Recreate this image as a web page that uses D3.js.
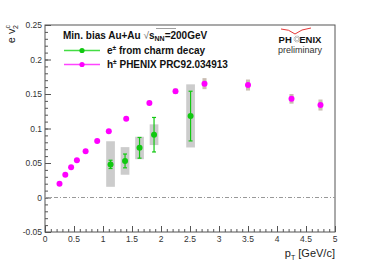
<!DOCTYPE html>
<html>
<head>
<meta charset="utf-8">
<script src="https://cdn.jsdelivr.net/npm/d3@7"></script>
<style>
  body { margin: 0; background: #fff; }
  svg { display: block; font-family: "Liberation Sans", Arial, sans-serif; }
</style>
</head>
<body>
<div id="chart"></div>
<script>
// Chart size, and the frame of the plot inside it.
const CHART_WIDTH = 374;
const CHART_HEIGHT = 264;
const MARGIN = { left: 45, right: 39, top: 25, bottom: 32 };

// Data.
const xTicks = [0, 0.5, 1, 1.5, 2, 2.5, 3, 3.5, 4, 4.5, 5];
const yTicks = [-0.05, 0, 0.05, 0.1, 0.15, 0.2, 0.25];

// h+- PHENIX PRC92.034913
const hadPt = [0.25, 0.35, 0.45, 0.55, 0.7, 0.9, 1.1, 1.4, 1.8, 2.25, 2.75, 3.5, 4.25, 4.75];
const hadV2 = [0.020, 0.033, 0.044, 0.054, 0.067, 0.082, 0.096, 0.114, 0.137, 0.154, 0.165, 0.163, 0.143, 0.134];
const hadSys = [0.001, 0.001, 0.001, 0.001, 0.001, 0.002, 0.002, 0.003, 0.003, 0.004, 0.008, 0.008, 0.007, 0.008];

// e+- from charm decay
const charmPt = [1.13, 1.38, 1.63, 1.88, 2.51];
const charmV2 = [0.048, 0.053, 0.072, 0.091, 0.118];
const charmStat = [0.006, 0.010, 0.015, 0.025, 0.036];
const charmSysLo = [0.0155, 0.033, 0.0555, 0.076, 0.0725];
const charmSysHi = [0.0815, 0.073, 0.088, 0.106, 0.164];

const GREEN = "#11c811";
const MAGENTA = "#ff00ff";

let svg = d3.select("#chart").append("svg")
  .attr("width", CHART_WIDTH)
  .attr("height", CHART_HEIGHT);

let xScale = d3.scaleLinear()
  .domain([0, 5])
  .range([MARGIN.left, CHART_WIDTH - MARGIN.right]);
let yScale = d3.scaleLinear()
  .domain([-0.05, 0.25])
  .range([CHART_HEIGHT - MARGIN.bottom, MARGIN.top]);

// Frame
svg.append("rect")
  .attr("x", xScale(0)).attr("y", yScale(0.25))
  .attr("width", xScale(5) - xScale(0))
  .attr("height", yScale(-0.05) - yScale(0.25))
  .attr("fill", "none").attr("stroke", "#555").attr("stroke-width", 1);

// Axes, ticks pointing into the plot like ROOT
let xMinor = d3.range(0, 5.001, 0.1).map(d => +d.toFixed(1));
let xAxisMinor = d3.axisTop(xScale).tickValues(xMinor).tickSize(3).tickFormat("");
let xAxisMajor = d3.axisTop(xScale).tickValues(xTicks).tickSize(6).tickFormat("");
let gx = svg.append("g").attr("transform", "translate(0," + yScale(-0.05) + ")");
gx.call(xAxisMinor);
gx.append("g").call(xAxisMajor);
gx.selectAll("path.domain").remove();
gx.selectAll("line").attr("stroke", "#555");

svg.append("g").selectAll("text")
  .data(xTicks).enter().append("text")
  .attr("x", d => xScale(d))
  .attr("y", yScale(-0.05) + 10)
  .attr("text-anchor", "middle")
  .attr("font-size", 8.5)
  .attr("fill", "#333")
  .text(d => d);

let yMinor = d3.range(-0.05, 0.2501, 0.01).map(d => +d.toFixed(2));
let yAxisMinor = d3.axisRight(yScale).tickValues(yMinor).tickSize(3).tickFormat("");
let yAxisMajor = d3.axisRight(yScale).tickValues(yTicks).tickSize(6).tickFormat("");
let gy = svg.append("g").attr("transform", "translate(" + xScale(0) + ",0)");
gy.call(yAxisMinor);
gy.append("g").call(yAxisMajor);
gy.selectAll("path.domain").remove();
gy.selectAll("line").attr("stroke", "#555");

svg.append("g").selectAll("text")
  .data(yTicks).enter().append("text")
  .attr("x", xScale(0) - 3)
  .attr("y", d => yScale(d) + 3)
  .attr("text-anchor", "end")
  .attr("font-size", 8.5)
  .attr("fill", "#333")
  .text(d => d);

// Axis titles
let xTitle = svg.append("text")
  .attr("x", xScale(5))
  .attr("y", 257)
  .attr("text-anchor", "end")
  .attr("font-size", 11)
  .attr("fill", "#222");
xTitle.append("tspan").text("p");
xTitle.append("tspan").attr("font-size", 7).attr("dy", 3).text("T");
xTitle.append("tspan").attr("dy", -3).text(" [GeV/c]");

let yTitle = svg.append("text")
  .attr("transform", "translate(15," + yScale(0.25) + ") rotate(-90)")
  .attr("text-anchor", "end")
  .attr("font-size", 11)
  .attr("fill", "#222");
yTitle.append("tspan").text("e v");
yTitle.append("tspan").attr("font-size", 7).attr("dy", -5).text("c");
yTitle.append("tspan").attr("font-size", 7).attr("dx", -4).attr("dy", 8).text("2");

// Zero line
svg.append("line")
  .attr("x1", xScale(0)).attr("x2", xScale(5))
  .attr("y1", yScale(0)).attr("y2", yScale(0))
  .attr("stroke", "#999").attr("stroke-width", 1)
  .attr("stroke-dasharray", "4,2,1,2");

// Systematic boxes for the hadrons
svg.append("g").selectAll("rect")
  .data(hadPt).enter().append("rect")
  .attr("x", d => xScale(d - 0.035))
  .attr("width", d => xScale(d + 0.035) - xScale(d - 0.035))
  .attr("y", (d, i) => yScale(hadV2[i] + hadSys[i]))
  .attr("height", (d, i) => yScale(hadV2[i] - hadSys[i]) - yScale(hadV2[i] + hadSys[i]))
  .attr("fill", "#c9bcb2");

// Systematic boxes for charm electrons
svg.append("g").selectAll("rect")
  .data(charmPt).enter().append("rect")
  .attr("x", d => xScale(d - 0.075))
  .attr("width", d => xScale(d + 0.075) - xScale(d - 0.075))
  .attr("y", (d, i) => yScale(charmSysHi[i]))
  .attr("height", (d, i) => yScale(charmSysLo[i]) - yScale(charmSysHi[i]))
  .attr("fill", "#cccccc");

// Statistical errors for charm electrons
let errs = svg.append("g").attr("stroke", GREEN).attr("stroke-width", 1.2);
errs.selectAll("line.bar")
  .data(charmPt).enter().append("line").classed("bar", true)
  .attr("x1", d => xScale(d)).attr("x2", d => xScale(d))
  .attr("y1", (d, i) => yScale(charmV2[i] + charmStat[i]))
  .attr("y2", (d, i) => yScale(charmV2[i] - charmStat[i]));
errs.selectAll("line.capHi")
  .data(charmPt).enter().append("line").classed("capHi", true)
  .attr("x1", d => xScale(d) - 2).attr("x2", d => xScale(d) + 2)
  .attr("y1", (d, i) => yScale(charmV2[i] + charmStat[i]))
  .attr("y2", (d, i) => yScale(charmV2[i] + charmStat[i]));
errs.selectAll("line.capLo")
  .data(charmPt).enter().append("line").classed("capLo", true)
  .attr("x1", d => xScale(d) - 2).attr("x2", d => xScale(d) + 2)
  .attr("y1", (d, i) => yScale(charmV2[i] - charmStat[i]))
  .attr("y2", (d, i) => yScale(charmV2[i] - charmStat[i]));

// Points
svg.append("g").selectAll("circle")
  .data(hadPt).enter().append("circle")
  .attr("cx", d => xScale(d))
  .attr("cy", (d, i) => yScale(hadV2[i]))
  .attr("r", 3)
  .attr("fill", MAGENTA);

svg.append("g").selectAll("circle")
  .data(charmPt).enter().append("circle")
  .attr("cx", d => xScale(d))
  .attr("cy", (d, i) => yScale(charmV2[i]))
  .attr("r", 3)
  .attr("fill", GREEN);

// Legend
let title = svg.append("text")
  .attr("x", 63).attr("y", 38.5)
  .attr("font-size", 10).attr("font-weight", "bold").attr("fill", "#111");
title.append("tspan").text("Min. bias Au+Au ");
title.append("tspan").attr("font-weight", "normal").attr("fill", "#666").text("\u221A");
title.append("tspan").text("s");
title.append("tspan").attr("font-size", 7).attr("dy", 2.5).text("NN");
title.append("tspan").attr("dy", -2.5).text("=200GeV");
// overline of the square root
svg.append("line")
  .attr("x1", 156).attr("x2", 176)
  .attr("y1", 28.5).attr("y2", 28.5)
  .attr("stroke", "#888").attr("stroke-width", 0.8);

const legendItems = [
  { label: "e", sup: "\u00B1", rest: " from charm decay", color: "#44dd44", dot: GREEN, y: 50.5 },
  { label: "h", sup: "\u00B1", rest: " PHENIX PRC92.034913", color: "#ff44ff", dot: MAGENTA, y: 64.5 }
];
let legend = svg.append("g").selectAll("g")
  .data(legendItems).enter().append("g");
legend.append("line")
  .attr("x1", 64).attr("x2", 100)
  .attr("y1", d => d.y).attr("y2", d => d.y)
  .attr("stroke", d => d.color).attr("stroke-width", 1.5);
legend.append("circle")
  .attr("cx", 82).attr("cy", d => d.y).attr("r", 2.6)
  .attr("fill", d => d.dot);
let legendText = legend.append("text")
  .attr("x", 107).attr("y", d => d.y + 3.5)
  .attr("font-size", 10).attr("font-weight", "bold").attr("fill", "#111");
legendText.append("tspan").text(d => d.label);
legendText.append("tspan").attr("font-size", 6.5).attr("dy", -4).text(d => d.sup);
legendText.append("tspan").attr("dy", 4).text(d => d.rest);

// PHENIX preliminary logo
let logo = svg.append("g");
logo.append("path")
  .attr("d", "M281,29 Q289,29 295,34 Q301,29 311,28")
  .attr("fill", "none").attr("stroke", "#e02020").attr("stroke-width", 0.9);
let logoText = logo.append("text")
  .attr("x", 300).attr("y", 42.5)
  .attr("text-anchor", "middle")
  .attr("font-size", 9.5).attr("font-weight", "bold").attr("fill", "#111");
logoText.append("tspan").text("PH");
logoText.append("tspan").attr("fill", "#fff").text("O");
logoText.append("tspan").text("ENIX");
// the gray burst in place of the O
let burst = logo.append("g").attr("transform", "translate(297,39)")
  .attr("stroke", "#aaa").attr("stroke-width", 0.8);
d3.range(0, 12).forEach(k => {
  let a = k * Math.PI / 6;
  burst.append("line")
    .attr("x1", 1.2 * Math.cos(a)).attr("y1", 1.2 * Math.sin(a))
    .attr("x2", 3.6 * Math.cos(a)).attr("y2", 3.6 * Math.sin(a));
});
logo.append("text")
  .attr("x", 300).attr("y", 52.5)
  .attr("text-anchor", "middle")
  .attr("font-size", 9).attr("fill", "#333")
  .text("preliminary");
</script>
</body>
</html>
